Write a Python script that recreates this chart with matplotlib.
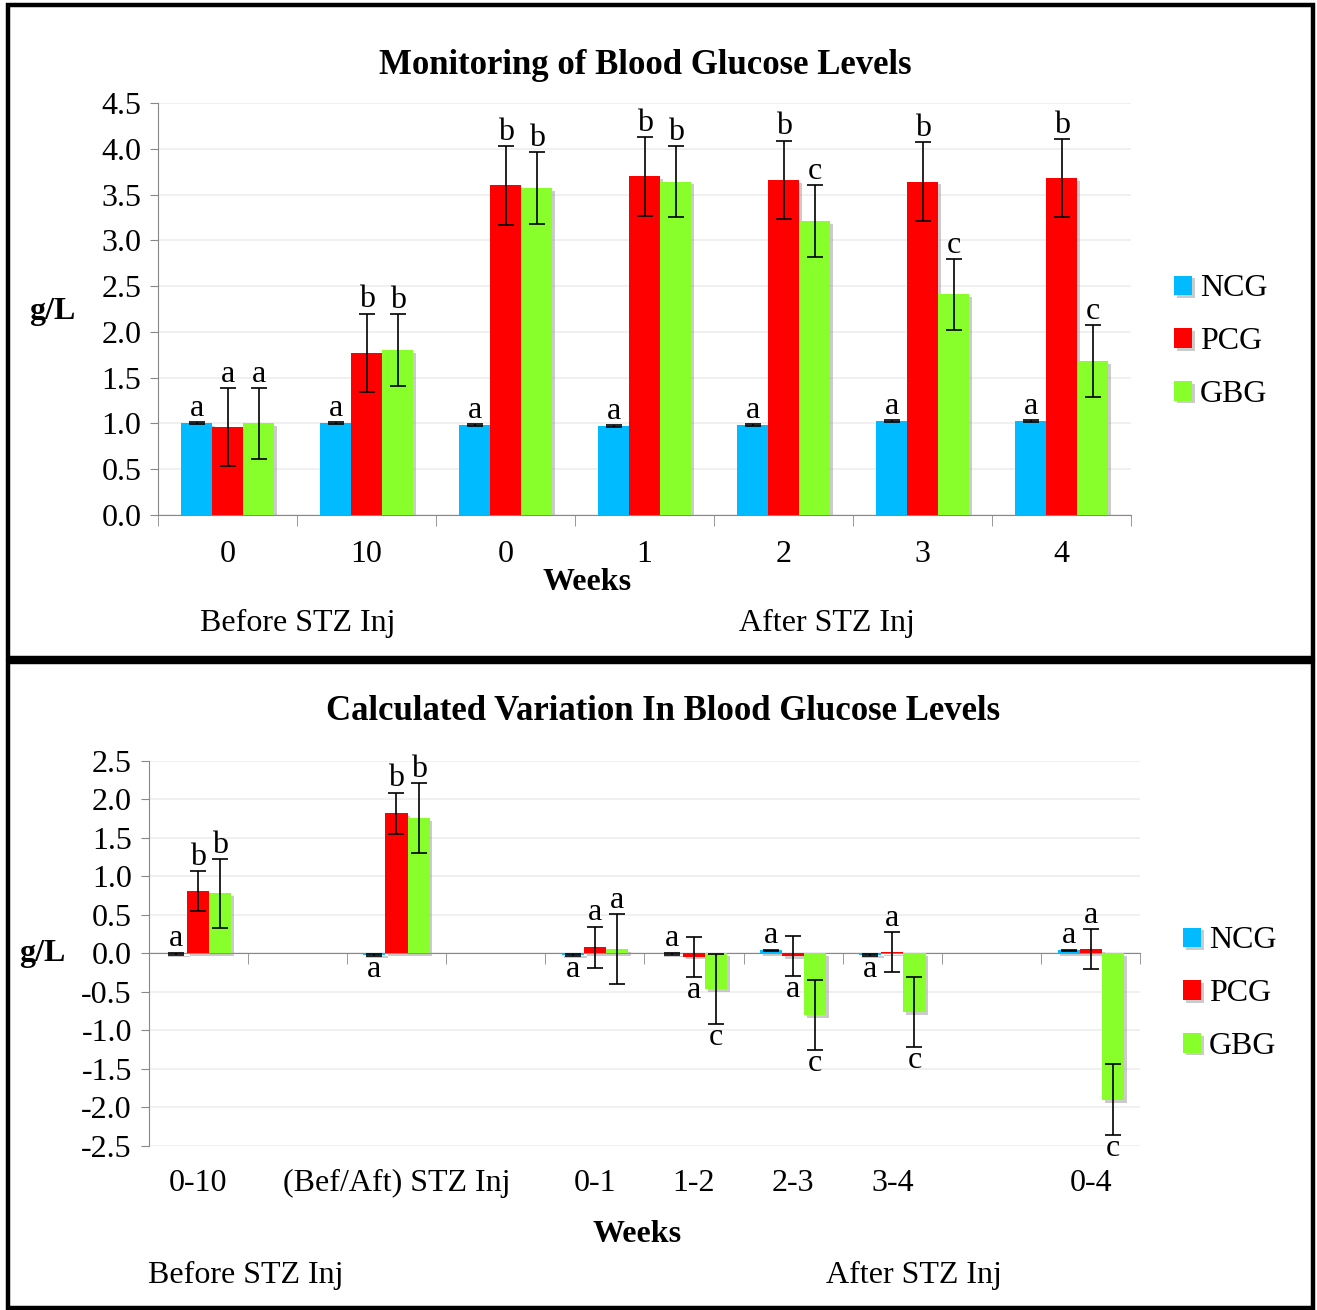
import matplotlib.pyplot as plt
import matplotlib.patheffects as pe
from matplotlib.patches import Rectangle
import numpy as np

plt.rcParams['font.family'] = ['Liberation Serif', 'DejaVu Serif']

groups = ['NCG', 'PCG', 'GBG']
colors = ['#00BBFF', '#FF0000', '#88FF2A']

# ---- top chart: monitoring
top_labels = ['0', '10', '0', '1', '2', '3', '4']
top_ncg = [1.00, 1.00, 0.98, 0.97, 0.98, 1.03, 1.03]
top_pcg = [0.96, 1.77, 3.60, 3.70, 3.66, 3.64, 3.68]
top_gbg = [1.00, 1.80, 3.57, 3.64, 3.21, 2.41, 1.68]
top_ncg_err = [0.01, 0.01, 0.01, 0.01, 0.01, 0.01, 0.01]
top_pcg_err = [0.43, 0.43, 0.43, 0.43, 0.43, 0.43, 0.43]
top_gbg_err = [0.39, 0.39, 0.39, 0.39, 0.39, 0.39, 0.39]
top_ncg_let = ['a', 'a', 'a', 'a', 'a', 'a', 'a']
top_pcg_let = ['a', 'b', 'b', 'b', 'b', 'b', 'b']
top_gbg_let = ['a', 'b', 'b', 'b', 'c', 'c', 'c']

# ---- bottom chart: variation (empty slots are blank categories)
bot_labels = ['0-10', '', '(Bef/Aft) STZ Inj', '', '0-1', '1-2', '2-3', '3-4', '', '0-4']
bot_ncg = [-0.01, np.nan, -0.02, np.nan, -0.02, -0.01, 0.04, -0.02, np.nan, 0.04]
bot_pcg = [0.81, np.nan, 1.82, np.nan, 0.08, -0.04, -0.03, 0.02, np.nan, 0.06]
bot_gbg = [0.78, np.nan, 1.76, np.nan, 0.06, -0.46, -0.80, -0.76, np.nan, -1.90]
bot_ncg_err = [0.01, np.nan, 0.01, np.nan, 0.01, 0.01, 0.01, 0.01, np.nan, 0.01]
bot_pcg_err = [0.26, np.nan, 0.27, np.nan, 0.27, 0.26, 0.26, 0.26, np.nan, 0.26]
bot_gbg_err = [0.45, np.nan, 0.45, np.nan, 0.45, 0.45, 0.45, 0.45, np.nan, 0.46]
bot_ncg_let = ['a', '', 'a', '', 'a', 'a', 'a', 'a', '', 'a']
bot_pcg_let = ['b', '', 'b', '', 'a', 'a', 'a', 'a', '', 'a']
bot_gbg_let = ['b', '', 'b', '', 'a', 'c', 'c', 'c', '', 'c']
# letter above (1) or below (-1) the bar/error bar
bot_ncg_side = [1, 0, -1, 0, -1, 1, 1, -1, 0, 1]
bot_pcg_side = [1, 0, 1, 0, 1, -1, -1, 1, 0, 1]
bot_gbg_side = [1, 0, 1, 0, 1, -1, -1, -1, 0, -1]

fig = plt.figure(figsize=(13.17, 13.10), dpi=100)

# panel borders
for (x0, y0, x1, y1) in [(8, 5, 1313, 658), (8, 662, 1313, 1308)]:
    fig.patches.append(Rectangle((x0 / 1317, 1 - y1 / 1310), (x1 - x0) / 1317, (y1 - y0) / 1310,
                                 transform=fig.transFigure, fill=False, lw=3.2, ec='black'))

shadow = [pe.SimplePatchShadow(offset=(2, -2), shadow_rgbFace='#999999', alpha=0.5), pe.Normal()]
bw = 0.223
fs = 23


def draw(ax, vals, errs, lets, sides, n, ymin, ymax, leg_y):
    x = np.arange(n)
    for i, (v, e, l, s, c) in enumerate(zip(vals, errs, lets, sides, colors)):
        xs = x + (i - 1) * bw
        v = np.array(v, float)
        e = np.array(e, float)
        ax.bar(xs, v, bw, color=c, zorder=3, path_effects=shadow, label=groups[i])
        ax.errorbar(xs, v, yerr=e, fmt='none', ecolor='black', elinewidth=1.2,
                    capsize=6, capthick=1.2, zorder=4)
        for j in range(n):
            if np.isnan(v[j]) or not l[j]:
                continue
            if s[j] > 0:
                yy = max(v[j], 0) + e[j] - 0.01
                ax.text(xs[j], yy, l[j], ha='center', va='bottom', fontsize=fs, zorder=5)
            else:
                yy = min(v[j], 0) - e[j] + 0.01
                ax.text(xs[j], yy, l[j], ha='center', va='top', fontsize=fs, zorder=5)
    ax.set_xlim(-0.5, n - 0.5)
    ax.set_ylim(ymin, ymax)
    ax.set_yticks(np.arange(ymin, ymax + 0.01, 0.5))
    ax.set_yticklabels([f'{t:.1f}' for t in np.arange(ymin, ymax + 0.01, 0.5)], fontsize=fs)
    ax.yaxis.grid(True, color='#eeeeee', lw=1.2, zorder=0)
    ax.set_axisbelow(True)
    for sp in ['top', 'right']:
        ax.spines[sp].set_visible(False)
    ax.spines['left'].set_color('#888888')
    ax.spines['bottom'].set_color('#888888')
    ax.tick_params(axis='y', direction='out', length=6, color='#888888', pad=6)
    ax.set_xticks(np.arange(n))
    ax.set_xticks(np.arange(n + 1) - 0.5, minor=True)
    ax.tick_params(axis='x', which='major', length=0, pad=18, labelsize=fs)
    ax.tick_params(axis='x', which='minor', direction='out', length=8, color='#888888')
    ax.legend(loc='center left', bbox_to_anchor=(1.0, leg_y), frameon=False, fontsize=fs,
              handlelength=0.55, handleheight=0.55, handletextpad=0.25, labelspacing=0.75,
              borderaxespad=0.95)
    return x


# top chart
ax1 = fig.add_axes([0.120, 0.6069, 0.739, 0.3145])
draw(ax1, [top_ncg, top_pcg, top_gbg], [top_ncg_err, top_pcg_err, top_gbg_err],
     [top_ncg_let, top_pcg_let, top_gbg_let], [[1] * 7] * 3, 7, 0.0, 4.5, 0.42)
ax1.set_xticklabels(top_labels)
fig.text(645 / 1317, 1 - 66 / 1310, 'Monitoring of Blood Glucose Levels', ha='center', va='center',
         fontsize=25, fontweight='bold')
fig.text(52 / 1317, 1 - 311 / 1310, 'g/L', ha='center', va='center', fontsize=fs, fontweight='bold')
fig.text(587 / 1317, 1 - 583 / 1310, 'Weeks', ha='center', va='center', fontsize=fs, fontweight='bold')
fig.text(298 / 1317, 1 - 623 / 1310, 'Before STZ Inj', ha='center', va='center', fontsize=fs)
fig.text(827 / 1317, 1 - 623 / 1310, 'After STZ Inj', ha='center', va='center', fontsize=fs)

# bottom chart
ax2 = fig.add_axes([0.1128, 0.1252, 0.753, 0.2939])
draw(ax2, [bot_ncg, bot_pcg, bot_gbg], [bot_ncg_err, bot_pcg_err, bot_gbg_err],
     [bot_ncg_let, bot_pcg_let, bot_gbg_let], [bot_ncg_side, bot_pcg_side, bot_gbg_side],
     10, -2.5, 2.5, 0.395)
ax2.set_xticklabels(bot_labels)
ax2.spines['bottom'].set_position(('data', 0))
ax2.tick_params(axis='x', which='major', pad=155)
fig.text(663 / 1317, 1 - 712 / 1310, 'Calculated Variation In Blood Glucose Levels', ha='center',
         va='center', fontsize=25, fontweight='bold')
fig.text(42 / 1317, 1 - 953 / 1310, 'g/L', ha='center', va='center', fontsize=fs, fontweight='bold')
fig.text(637 / 1317, 1 - 1235 / 1310, 'Weeks', ha='center', va='center', fontsize=fs, fontweight='bold')
fig.text(246 / 1317, 1 - 1275 / 1310, 'Before STZ Inj', ha='center', va='center', fontsize=fs)
fig.text(914 / 1317, 1 - 1275 / 1310, 'After STZ Inj', ha='center', va='center', fontsize=fs)

fig.savefig('out.png', dpi=100)
